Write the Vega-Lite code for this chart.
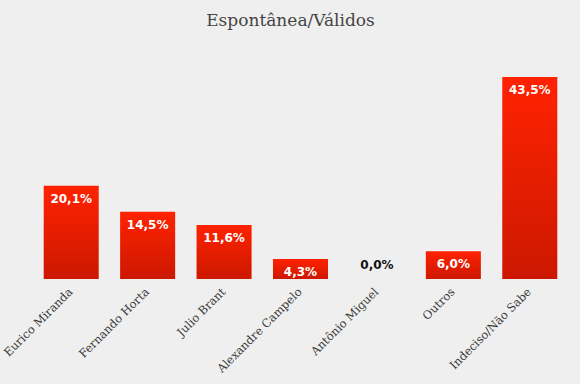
{
  "$schema": "https://vega.github.io/schema/vega-lite/v6.json",
  "autosize": {"type": "none"},
  "width": 535,
  "height": 209,
  "padding": {"left": 33, "top": 70, "right": 12, "bottom": 105},
  "background": "#efefef",
  "title": {
    "text": "Espontânea/Válidos",
    "font": "DejaVu Serif",
    "fontSize": 17,
    "fontWeight": "normal",
    "color": "#444444",
    "anchor": "middle",
    "dx": -10,
    "offset": 40
  },
  "data": {
    "values": [
      {"nome": "Eurico Miranda", "valor": 20.1, "rotulo": "20,1%"},
      {"nome": "Fernando Horta", "valor": 14.5, "rotulo": "14,5%"},
      {"nome": "Julio Brant", "valor": 11.6, "rotulo": "11,6%"},
      {"nome": "Alexandre Campelo", "valor": 4.3, "rotulo": "4,3%"},
      {"nome": "Antônio Miguel", "valor": 0.0, "rotulo": "0,0%"},
      {"nome": "Outros", "valor": 6.0, "rotulo": "6,0%"},
      {"nome": "Indeciso/Não Sabe", "valor": 43.5, "rotulo": "43,5%"}
    ]
  },
  "encoding": {
    "x": {
      "field": "nome",
      "type": "nominal",
      "sort": null,
      "scale": {"paddingInner": 0.28, "paddingOuter": 0.14},
      "axis": {
        "title": null,
        "labelAngle": -45,
        "labelAlign": "right",
        "labelBaseline": "middle",
        "labelFont": "DejaVu Serif",
        "labelFontSize": 11.5,
        "labelColor": "#3a3a3a",
        "labelPadding": 11,
        "domain": false,
        "ticks": false
      }
    },
    "y": {
      "field": "valor",
      "type": "quantitative",
      "scale": {"domain": [0, 45], "nice": false},
      "axis": null
    }
  },
  "layer": [
    {
      "mark": {
        "type": "bar",
        "color": {
          "gradient": "linear",
          "x1": 0, "y1": 0, "x2": 0, "y2": 1,
          "stops": [
            {"offset": 0, "color": "#ff2200"},
            {"offset": 1, "color": "#cc1800"}
          ]
        }
      }
    },
    {
      "transform": [{"filter": "datum.valor > 0"}],
      "mark": {
        "type": "text",
        "baseline": "top",
        "dy": 8,
        "font": "DejaVu Sans",
        "fontSize": 12,
        "fontWeight": "bold",
        "color": "#ffffff"
      },
      "encoding": {"text": {"field": "rotulo"}}
    },
    {
      "transform": [{"filter": "datum.valor == 0"}],
      "mark": {
        "type": "text",
        "baseline": "bottom",
        "dy": -7,
        "font": "DejaVu Sans",
        "fontSize": 12,
        "fontWeight": "bold",
        "color": "#111111"
      },
      "encoding": {"text": {"field": "rotulo"}}
    }
  ],
  "config": {"view": {"stroke": null}}
}
